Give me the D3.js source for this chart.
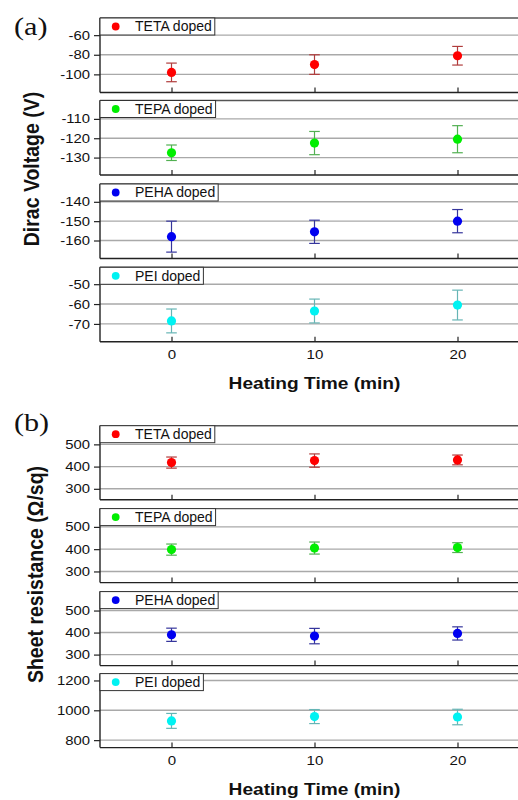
<!DOCTYPE html>
<html>
<head>
<meta charset="utf-8">
<script src="https://cdn.jsdelivr.net/npm/d3@7"></script>
<style>
body { margin: 0; background: #fff; }
svg { display: block; font-family: "Liberation Sans", Arial, sans-serif; }
</style>
</head>
<body>
<svg width="518" height="800"></svg>
<script>
// ---- data ----
var times = [0, 10, 20];
var timeTicks = [0, 10, 20];
var timeDomain = [-5, 25];
var dopants = ["TETA doped", "TEPA doped", "PEHA doped", "PEI doped"];
var dotColors = ["#ff0000", "#00ee00", "#0000f0", "#00f2f2"];
var barColors = ["#b03c3c", "#52b052", "#35359c", "#66b5b5"];

// (a) Dirac voltage, V
var diracTETA = [-98, -90, -81];
var diracTETAErr = [9.5, 10, 9.5];
var diracTEPA = [-127.5, -122.5, -120.5];
var diracTEPAErr = [4, 6, 7];
var diracPEHA = [-158, -155.5, -150];
var diracPEHAErr = [8, 6, 6];
var diracPEI = [-68.5, -63.5, -60.5];
var diracPEIErr = [6, 6, 7.5];
var diracDomains = [[-118.5, -42.5], [-139, -100.5], [-169.3, -130.8], [-79, -41.5]];
var diracTicks = [[-60, -80, -100], [-110, -120, -130], [-140, -150, -160], [-50, -60, -70]];

// (b) sheet resistance, ohm/sq
var sheetTETA = [418, 427, 430];
var sheetTETAErr = [25, 30, 22];
var sheetTEPA = [398, 405, 407];
var sheetTEPAErr = [25, 27, 22];
var sheetPEHA = [390, 384, 396];
var sheetPEHAErr = [30, 35, 30];
var sheetPEI = [929, 958, 955];
var sheetPEIErr = [50, 47, 52];
var sheetDomains = [[251, 584], [250, 582], [250, 586], [750, 1246]];
var sheetTicks = [[300, 400, 500], [300, 400, 500], [300, 400, 500], [800, 1000, 1200]];

// ---- layout ----
var SX = 1.16;   // glyphs in the picture are stretched sideways
var svg = d3.select("svg");
var x = d3.scaleLinear().domain(timeDomain).range([100, 529]);
var plain = function(d) { return String(d); };   // keeps "-" and no thousands comma

function stretchLen(sel) {
	sel.each(function() {
		var w = this.getComputedTextLength();
		if (w > 0) d3.select(this).attr("textLength", w * SX).attr("lengthAdjust", "spacingAndGlyphs");
	});
}

function drawPanel(top, bottom, yDom, yTicks, vals, errs, k, showX) {
	var y = d3.scaleLinear().domain(yDom).range([bottom, top]);
	var g = svg.append("g").attr("class", "panel");
	var x0 = x.range()[0], x1 = x.range()[1];

	g.selectAll("line.grid").data(yTicks).enter().append("line").attr("class", "grid")
		.attr("x1", x0).attr("x2", x1)
		.attr("y1", function(d) { return y(d); }).attr("y2", function(d) { return y(d); })
		.attr("stroke", "#a9a9a9").attr("stroke-width", 1.4);

	// frame
	g.append("line").attr("x1", x0).attr("x2", x1).attr("y1", top).attr("y2", top)
		.attr("stroke", "#555").attr("stroke-width", 1.4);
	g.append("line").attr("x1", x0).attr("x2", x1).attr("y1", bottom).attr("y2", bottom)
		.attr("stroke", "#222").attr("stroke-width", 1.4);
	g.append("line").attr("x1", x0).attr("x2", x0).attr("y1", top).attr("y2", bottom)
		.attr("stroke", "#222").attr("stroke-width", 1.4);

	var ya = g.append("g").attr("transform", "translate(" + x0 + ",0)")
		.call(d3.axisLeft(y).tickValues(yTicks).tickSize(6).tickPadding(4).tickFormat(plain));
	ya.select(".domain").remove();
	ya.selectAll(".tick line").attr("stroke", "#222").attr("stroke-width", 1.2);
	ya.selectAll("text").attr("font-family", "'Liberation Sans', Arial, sans-serif")
		.attr("font-size", "12.8px").attr("fill", "#111").call(stretchLen);

	var xa = g.append("g").attr("transform", "translate(0," + bottom + ")")
		.call(d3.axisBottom(x).tickValues(timeTicks).tickSizeInner(-5).tickSizeOuter(0).tickPadding(8)
			.tickFormat(showX ? plain : function() { return ""; }));
	xa.select(".domain").remove();
	xa.selectAll(".tick line").attr("stroke", "#222").attr("stroke-width", 1.2);
	xa.selectAll("text").attr("font-family", "'Liberation Sans', Arial, sans-serif")
		.attr("font-size", "13px").attr("fill", "#111").call(stretchLen);

	// error bars
	var pts = times.map(function(t, i) { return {t: t, v: vals[i], e: errs[i]}; });
	var eb = g.selectAll("g.err").data(pts).enter().append("g").attr("class", "err")
		.attr("stroke", barColors[k]).attr("stroke-width", 1.2);
	eb.append("line").attr("x1", function(d) { return x(d.t); }).attr("x2", function(d) { return x(d.t); })
		.attr("y1", function(d) { return y(d.v - d.e); }).attr("y2", function(d) { return y(d.v + d.e); });
	[-1, 1].forEach(function(s) {
		eb.append("line").attr("x1", function(d) { return x(d.t) - 5.3; }).attr("x2", function(d) { return x(d.t) + 5.3; })
			.attr("y1", function(d) { return y(d.v + s * d.e); }).attr("y2", function(d) { return y(d.v + s * d.e); });
	});
	g.selectAll("circle.pt").data(pts).enter().append("circle").attr("class", "pt")
		.attr("cx", function(d) { return x(d.t); }).attr("cy", function(d) { return y(d.v); })
		.attr("r", 4.6).attr("fill", dotColors[k]);

	// legend box
	var lg = g.append("g");
	var box = lg.append("rect").attr("x", x0).attr("y", top).attr("height", 17)
		.attr("fill", "#fff").attr("stroke", "#333").attr("stroke-width", 1);
	lg.append("circle").attr("cx", 115.7).attr("cy", top + 8.5).attr("r", 3.9).attr("fill", dotColors[k]);
	var lt = lg.append("text").attr("x", 135).attr("y", top + 13.4).attr("font-size", "14px")
		.attr("fill", "#111").text(dopants[k]);
	box.attr("width", 135 + lt.node().getComputedTextLength() + 3 - x0);
}

function drawGroup(tops, h, series, errSeries, domains, ticks, tag, tagY, title, titleX, titleY) {
	for (var k = 0; k < 4; k++) {
		drawPanel(tops[k], tops[k] + h, domains[k], ticks[k], series[k], errSeries[k], k, k == 3);
	}
	var bottom = tops[3] + h;
	svg.append("text").attr("transform", "translate(" + x(10) + "," + (bottom + 47.5) + ") scale(" + SX + ",1)")
		.attr("text-anchor", "middle").attr("font-size", "16.5px").attr("font-weight", "bold")
		.attr("fill", "#111").text("Heating Time (min)");
	svg.append("text").attr("transform", "translate(" + titleX + "," + titleY + ") scale(" + SX + ",1) rotate(-90)")
		.attr("text-anchor", "middle").attr("font-size", "19.5px").attr("font-weight", "bold")
		.attr("fill", "#111").text(title);
	svg.append("text").attr("transform", "translate(14," + tagY + ") scale(" + SX + ",1)")
		.attr("font-family", "'Liberation Serif', 'Times New Roman', serif").attr("font-size", "26px")
		.attr("fill", "#111").text(tag);
}

drawGroup([18, 100.5, 184, 267.3], 74.5,
	[diracTETA, diracTEPA, diracPEHA, diracPEI],
	[diracTETAErr, diracTEPAErr, diracPEHAErr, diracPEIErr],
	diracDomains, diracTicks, "(a)", 35, "Dirac Voltage (V)", 38.5, 169);

drawGroup([425.7, 508.6, 591.6, 673.6], 74,
	[sheetTETA, sheetTEPA, sheetPEHA, sheetPEI],
	[sheetTETAErr, sheetTEPAErr, sheetPEHAErr, sheetPEIErr],
	sheetDomains, sheetTicks, "(b)", 431, "Sheet resistance (\u03A9/sq)", 43, 574.5);
</script>
</body>
</html>
